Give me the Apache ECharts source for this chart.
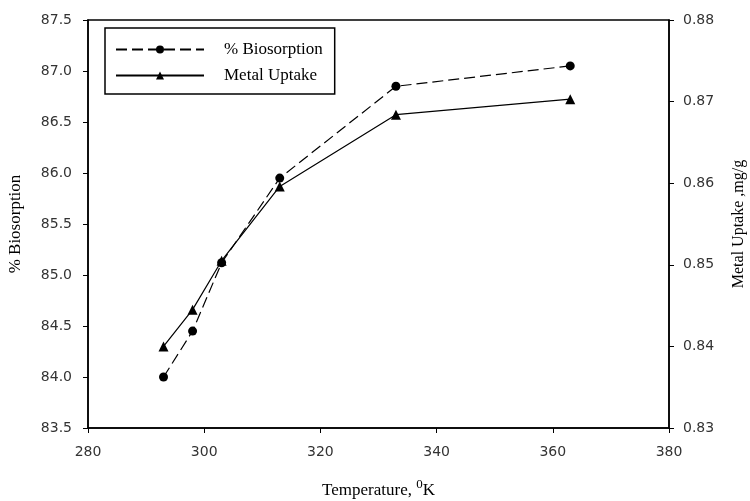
<!DOCTYPE html>
<html>
<head>
<meta charset="utf-8">
<script src="https://cdn.jsdelivr.net/npm/echarts@6/dist/echarts.min.js"></script>
<style>
  html, body { margin: 0; padding: 0; background: #fff; }
  #chart { width: 750px; height: 501px; }
</style>
</head>
<body>
<div id="chart"></div>
<script>
// temperature, K
const temperature = [293, 298, 303, 313, 333, 363]
// % biosorption (left axis)
const biosorption = [84.0, 84.45, 85.12, 85.95, 86.85, 87.05]
// metal uptake, mg/g (right axis)
const uptake = [0.840, 0.8445, 0.8505, 0.8596, 0.8684, 0.8703]

const pairs = (xs, ys) => xs.map((x, i) => [x, ys[i]])

const myChart = echarts.init(document.getElementById('chart'))

const tickFont = { fontFamily: 'DejaVu Sans', fontSize: 14, color: '#333' }
const titleFont = { fontFamily: 'Liberation Serif', fontSize: 17, color: '#000' }

const option = {
  animation: false,
  grid: {
    left: 88, right: 81, top: 20, bottom: 73,
    outerBoundsMode: 'none',
    containLabel: false,
    show: true, borderColor: '#000', borderWidth: 1.5,
  },
  legend: {
    left: 105,
    top: 28,
    orient: 'vertical',
    borderColor: '#000',
    borderWidth: 1.5,
    padding: [13, 12, 10, 10],
    itemWidth: 88,
    itemHeight: 10,
    itemGap: 9,
    textStyle: { fontFamily: 'Liberation Serif', fontSize: 17, lineHeight: 14, color: '#000', padding: [0, 0, 0, 15] },
    data: ['% Biosorption', 'Metal Uptake'],
  },
  xAxis: {
    type: 'value',
    min: 280,
    max: 380,
    interval: 20,
    name: 'Temperature, {sup|0}K',
    nameLocation: 'middle',
    nameGap: 50,
    nameTextStyle: Object.assign({
      rich: { sup: { fontFamily: 'Liberation Serif', fontSize: 13, color: '#000', padding: [0, 0, 12, 0] } },
    }, titleFont),
    axisLine: { lineStyle: { color: '#000', width: 1.5 } },
    axisTick: { lineStyle: { color: '#000' }, length: 5 },
    axisLabel: Object.assign({ margin: 17 }, tickFont),
    splitLine: { show: false },
  },
  yAxis: [
    {
      type: 'value',
      min: 83.5,
      max: 87.5,
      interval: 0.5,
      name: '% Biosorption',
      nameLocation: 'middle',
      nameRotate: 90,
      nameGap: 64,
      nameTextStyle: titleFont,
      axisLine: { show: true, lineStyle: { color: '#000', width: 1.5 } },
      axisTick: { show: true, lineStyle: { color: '#000' }, length: 5 },
      axisLabel: Object.assign({ margin: 16, formatter: (v) => v.toFixed(1) }, tickFont),
      splitLine: { show: false },
    },
    {
      type: 'value',
      position: 'right',
      min: 0.83,
      max: 0.88,
      interval: 0.01,
      name: 'Metal Uptake ,mg/g',
      nameLocation: 'middle',
      nameRotate: 90,
      nameGap: 62,
      nameTextStyle: Object.assign({}, titleFont, { fontSize: 16 }),
      axisLine: { show: true, lineStyle: { color: '#000', width: 1.5 } },
      axisTick: { show: true, lineStyle: { color: '#000' }, length: 5 },
      axisLabel: Object.assign({ margin: 14, formatter: (v) => v.toFixed(2) }, tickFont),
      splitLine: { show: false },
    },
  ],
  series: [
    {
      name: '% Biosorption',
      type: 'line',
      yAxisIndex: 0,
      data: pairs(temperature, biosorption),
      symbol: 'circle',
      symbolSize: 9,
      itemStyle: { color: '#000' },
      lineStyle: { color: '#000', width: 1.2, type: [11, 5] },
    },
    {
      name: 'Metal Uptake',
      type: 'line',
      yAxisIndex: 1,
      data: pairs(temperature, uptake),
      symbol: 'triangle',
      symbolSize: 10,
      itemStyle: { color: '#000' },
      lineStyle: { color: '#000', width: 1.2 },
    },
  ],
}

myChart.setOption(option)
</script>
</body>
</html>
